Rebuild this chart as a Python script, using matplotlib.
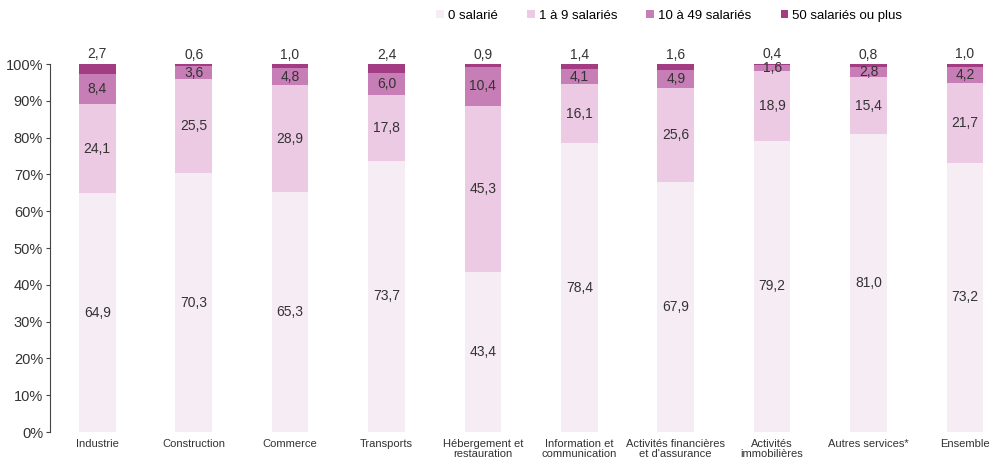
import numpy as np
import matplotlib
matplotlib.use("Agg")
import matplotlib.pyplot as plt

plt.rcParams['font.family'] = ['Liberation Sans', 'DejaVu Sans']

# -------------------------------------------------------------------------
# Données
# -------------------------------------------------------------------------
secteurs = ["Industrie", "Construction", "Commerce", "Transports",
            "Hébergement et\nrestauration", "Information et\ncommunication",
            "Activités financières\net d'assurance", "Activités\nimmobilières",
            "Autres services*", "Ensemble"]

zero_salarie = [64.9, 70.3, 65.3, 73.7, 43.4, 78.4, 67.9, 79.2, 81.0, 73.2]
un_a_neuf = [24.1, 25.5, 28.9, 17.8, 45.3, 16.1, 25.6, 18.9, 15.4, 21.7]
dix_a_49 = [8.4, 3.6, 4.8, 6.0, 10.4, 4.1, 4.9, 1.6, 2.8, 4.2]
cinquante_plus = [2.7, 0.6, 1.0, 2.4, 0.9, 1.4, 1.6, 0.4, 0.8, 1.0]

series = [zero_salarie, un_a_neuf, dix_a_49, cinquante_plus]
noms = ["0 salarié", "1 à 9 salariés", "10 à 49 salariés", "50 salariés ou plus"]
couleurs = ["#f6edf4", "#eccae4", "#c77db5", "#a33c82"]

# -------------------------------------------------------------------------
# Tracé
# -------------------------------------------------------------------------
fig = plt.figure(figsize=(10.02, 4.68), dpi=100)
ax = fig.add_axes([50 / 1002, 1 - 432 / 468, 940 / 1002, (432 - 64) / 468])

x = np.arange(len(secteurs))
width = 0.38
bottom = np.zeros(len(secteurs))

for k, (vals, nom, coul) in enumerate(zip(series, noms, couleurs)):
    vals = np.array(vals)
    ax.bar(x, vals, width, bottom=bottom, color=coul, label=nom, linewidth=0)
    for i, v in enumerate(vals):
        lab = f"{v:.1f}".replace('.', ',')
        if k < 3:
            ax.text(x[i], bottom[i] + v / 2, lab, ha='center', va='center',
                    fontsize=10, color='#333333')
        else:
            ax.text(x[i], bottom[i] + v + 0.6, lab, ha='center', va='bottom',
                    fontsize=10, color='#333333', clip_on=False)
    bottom += vals

ax.set_xlim(-0.49, 9.26)
ax.set_ylim(0, 100)
ax.set_yticks(np.arange(0, 101, 10))
ax.set_yticklabels([f"{t}%" for t in range(0, 101, 10)], fontsize=10.5, color='#333333')
ax.tick_params(axis='y', length=3, color='#444444', pad=2)

ax.set_xticks(x)
ax.set_xticklabels(secteurs, fontsize=8, color='#333333', linespacing=0.95,
                   family=['Liberation Sans Narrow', 'Liberation Sans'])
ax.tick_params(axis='x', length=0, pad=5)

for s in ['top', 'right', 'bottom']:
    ax.spines[s].set_visible(False)
ax.spines['left'].set_color('#444444')
ax.spines['left'].set_linewidth(0.8)

leg = fig.legend(loc='upper center', bbox_to_anchor=(0.668, 1.005), ncol=4,
                 frameon=False, fontsize=9.5, handlelength=0.6, handleheight=0.6,
                 handletextpad=0.3, columnspacing=2.2)

fig.savefig("out.png", dpi=100)
